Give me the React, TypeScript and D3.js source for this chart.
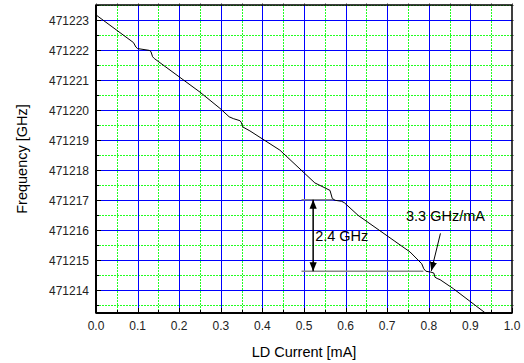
import * as d3 from "d3";

// LD current sweep (mA) and measured frequency (GHz)
const currentMA = [
  0.0, 0.09, 0.096, 0.1, 0.128, 0.132, 0.136, 0.14, 0.25, 0.298, 0.32, 0.33,
  0.346, 0.349, 0.353, 0.37, 0.442, 0.526, 0.5625, 0.568, 0.575, 0.59, 0.597,
  0.63, 0.755, 0.783, 0.788, 0.793, 0.805, 0.812, 0.815, 0.82, 0.827, 0.859,
  0.935,
];
const frequencyGHz = [
  471223.17, 471222.25, 471222.1, 471222.05, 471221.99, 471221.95, 471221.78,
  471221.72, 471220.6, 471220.06, 471219.78, 471219.72, 471219.65, 471219.6,
  471219.44, 471219.31, 471218.67, 471217.58, 471217.33, 471217.06, 471217.0,
  471216.97, 471216.92, 471216.5, 471215.28, 471214.89, 471214.72, 471214.64,
  471214.61, 471214.58, 471214.44, 471214.4, 471214.36, 471214.06, 471213.26,
];

const xTicks = [0, 0.1, 0.2, 0.3, 0.4, 0.5, 0.6, 0.7, 0.8, 0.9, 1.0];
const xMinor = [0.05, 0.15, 0.25, 0.35, 0.45, 0.55, 0.65, 0.75, 0.85, 0.95];
const yTicks = [
  471214, 471215, 471216, 471217, 471218, 471219, 471220, 471221, 471222,
  471223,
];
const yMinor = [
  471213.5, 471214.5, 471215.5, 471216.5, 471217.5, 471218.5, 471219.5,
  471220.5, 471221.5, 471222.5, 471223.5,
];

// annotation: 2.4 GHz span and 3.3 GHz/mA pointer
const spanTop = 471217.02;
const spanBottom = 471214.64;
const spanUpperLine = [0.494, 0.571];
const spanLowerLine = [0.494, 0.787];
const spanArrowX = 0.522;
const slopeArrowFrom = [0.828, 471215.9];
const slopeArrowTo = [0.806, 471214.65];

const W = 524;
const H = 363;
const left = 96;
const right = 512;
const top = 5;
const bottom = 313;
const font = "Arial, 'Liberation Sans', sans-serif";
const green = "#22ff22";

// snap a coordinate to the pixel centre so 1px lines stay sharp
const px = (v: number) => Math.round(v) + 0.5;

export default function App() {
  const x = d3.scaleLinear().domain([0, 1]).range([left, right]);
  const y = d3.scaleLinear().domain([471213.25, 471223.5]).range([bottom, top]);

  const pts = currentMA.map((c, i) => [c, frequencyGHz[i]] as [number, number]);
  const line = d3
    .line<[number, number]>()
    .x((d) => x(d[0]))
    .y((d) => y(d[1]));

  const fmtY = d3.format("d");
  const fmtX = d3.format(".1f");

  return (
    <div style={{ position: "fixed", left: 0, top: 0 }}>
      <svg width={W} height={H} style={{ display: "block", background: "#fff" }}>
        <defs>
          <marker
            id="head"
            viewBox="0 0 10 10"
            refX="10"
            refY="5"
            markerWidth="9"
            markerHeight="9"
            markerUnits="userSpaceOnUse"
            orient="auto-start-reverse"
          >
            <path d="M0,1 L10,5 L0,9 Z" fill="#000" />
          </marker>
          <pattern id="dotH" patternUnits="userSpaceOnUse" width="3" height="1">
            <rect width="2" height="1" fill={green} />
          </pattern>
          <pattern id="dotV" patternUnits="userSpaceOnUse" width="1" height="3">
            <rect width="1" height="2" fill={green} />
          </pattern>
        </defs>

        {/* minor grid (dotted green) */}
        <g>
          {xMinor.map((t) => (
            <rect
              key={"xm" + t}
              x={Math.round(x(t))}
              y={top}
              width={1}
              height={bottom - top}
              fill="url(#dotV)"
            />
          ))}
          {yMinor.map((t) => (
            <rect
              key={"ym" + t}
              x={left}
              y={Math.round(y(t))}
              width={right - left}
              height={1}
              fill="url(#dotH)"
            />
          ))}
        </g>

        {/* major grid */}
        <g stroke="#0000ff" strokeWidth={1}>
          {xTicks.slice(1, -1).map((t) => (
            <line key={"xg" + t} x1={px(x(t))} x2={px(x(t))} y1={top} y2={bottom} />
          ))}
          {yTicks.map((t) => (
            <line key={"yg" + t} x1={left} x2={right} y1={px(y(t))} y2={px(y(t))} />
          ))}
        </g>

        {/* annotation lines */}
        <g stroke="#888" strokeWidth={1.5}>
          <line x1={x(spanUpperLine[0])} x2={x(spanUpperLine[1])} y1={y(spanTop)} y2={y(spanTop)} />
          <line x1={x(spanLowerLine[0])} x2={x(spanLowerLine[1])} y1={y(spanBottom)} y2={y(spanBottom)} />
        </g>

        {/* data */}
        <path d={line(pts) ?? ""} fill="none" stroke="#000" strokeWidth={1} />

        {/* arrows */}
        <line
          x1={x(spanArrowX)}
          x2={x(spanArrowX)}
          y1={y(spanTop)}
          y2={y(spanBottom)}
          stroke="#000"
          strokeWidth={1.5}
          markerStart="url(#head)"
          markerEnd="url(#head)"
        />
        <line
          x1={x(slopeArrowFrom[0])}
          y1={y(slopeArrowFrom[1])}
          x2={x(slopeArrowTo[0])}
          y2={y(slopeArrowTo[1])}
          stroke="#000"
          strokeWidth={1}
          markerEnd="url(#head)"
        />
        <text x={x(spanArrowX) + 2} y={241} fontFamily={font} fontSize={14.5} fill="#000">
          2.4 GHz
        </text>
        <text x={406} y={220.5} fontFamily={font} fontSize={14.5} fill="#000">
          3.3 GHz/mA
        </text>

        {/* ticks: inside on bottom/left, tiny outside on top/right */}
        <g stroke="#000" strokeWidth={1}>
          {xTicks.map((t) => (
            <line key={"xt" + t} x1={px(x(t))} x2={px(x(t))} y1={bottom} y2={bottom - 5} />
          ))}
          {xMinor.map((t) => (
            <line key={"xtm" + t} x1={px(x(t))} x2={px(x(t))} y1={bottom} y2={bottom - 3} />
          ))}
          {yTicks.map((t) => (
            <line key={"yt" + t} x1={left} x2={left + 5} y1={px(y(t))} y2={px(y(t))} />
          ))}
          {yMinor.map((t) => (
            <line key={"ytm" + t} x1={left} x2={left + 3} y1={px(y(t))} y2={px(y(t))} />
          ))}
        </g>
        <g stroke="#999" strokeWidth={1}>
          {[...xTicks, ...xMinor].map((t) => (
            <line key={"xtt" + t} x1={px(x(t))} x2={px(x(t))} y1={top} y2={top - 2} />
          ))}
          {[...yTicks, ...yMinor].map((t) => (
            <line key={"ytr" + t} x1={right} x2={right + 2} y1={px(y(t))} y2={px(y(t))} />
          ))}
        </g>

        {/* frame */}
        <rect
          x={left}
          y={top}
          width={right - left}
          height={bottom - top}
          fill="none"
          stroke="#000"
          strokeWidth={1.5}
        />
        <line x1={left} x2={right} y1={bottom} y2={bottom} stroke="#000" strokeWidth={2} />
        <line x1={left} x2={left} y1={top} y2={bottom} stroke="#000" strokeWidth={2} />

        {/* tick labels */}
        <g fontFamily={font} fontSize={12} fill="#222">
          {xTicks.map((t) => (
            <text key={"xl" + t} x={x(t)} y={330} textAnchor="middle">
              {fmtX(t)}
            </text>
          ))}
          {yTicks.map((t) => (
            <text key={"yl" + t} x={89} y={y(t) + 4.5} textAnchor="end">
              {fmtY(t)}
            </text>
          ))}
        </g>

        {/* axis titles */}
        <text
          x={(left + right) / 2}
          y={356.5}
          textAnchor="middle"
          fontFamily={font}
          fontSize={14.5}
          fill="#000"
        >
          LD Current [mA]
        </text>
        <text
          transform={`translate(27,${(top + bottom) / 2}) rotate(-90)`}
          textAnchor="middle"
          fontFamily={font}
          fontSize={14.5}
          fill="#000"
        >
          Frequency [GHz]
        </text>
      </svg>
    </div>
  );
}
